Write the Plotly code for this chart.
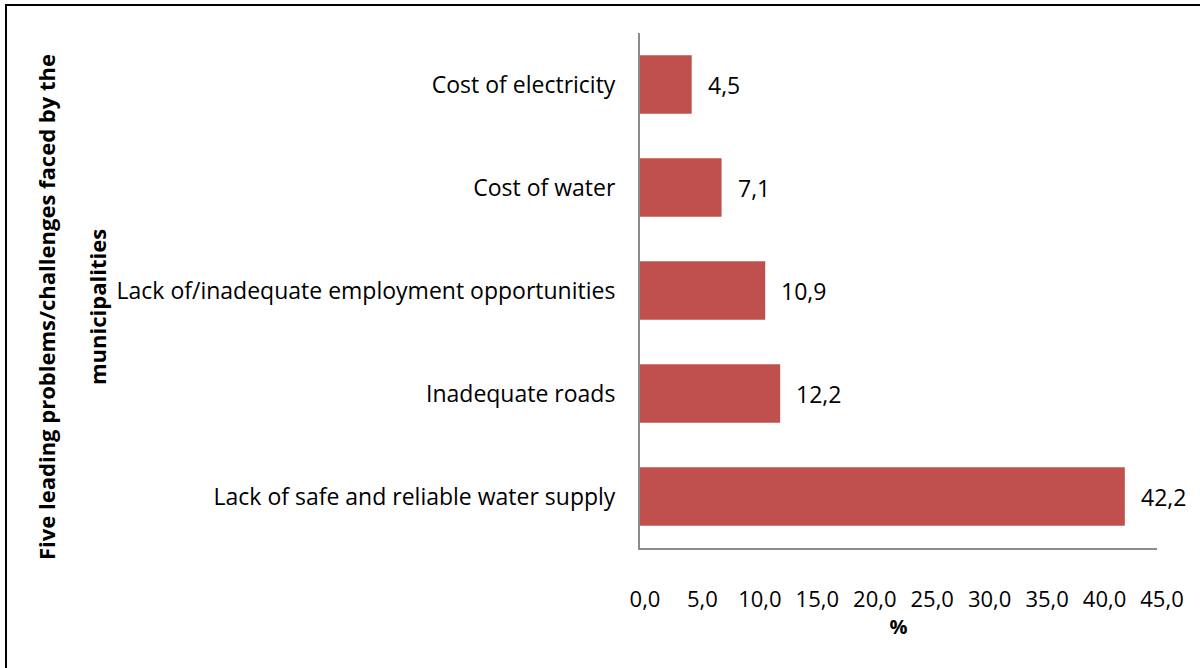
import plotly.graph_objects as go

categories = [
    "Cost of electricity",
    "Cost of water",
    "Lack of/inadequate employment opportunities",
    "Inadequate roads",
    "Lack of safe and reliable water supply",
]
values = [4.5, 7.1, 10.9, 12.2, 42.2]
tick_vals = [0, 5, 10, 15, 20, 25, 30, 35, 40, 45]
tick_text = ["0,0", "5,0", "10,0", "15,0", "20,0", "25,0", "30,0", "35,0", "40,0", "45,0"]
value_labels = ["4,5", "7,1", "10,9", "12,2", "42,2"]
y_title_lines = ["Five leading problems/challenges faced by the", "municipalities"]

W, H = 1200, 668
L, R, T, B = 640, 43, 33, 120
pw, ph = W - L - R, H - T - B

FONT = "Open Sans"
FS = 23

fig = go.Figure()
fig.add_trace(go.Bar(
    y=categories, x=values, orientation="h",
    marker=dict(color="#C0504D", line=dict(width=0)),
    width=0.57,
))

for c, v, t in zip(categories, values, value_labels):
    fig.add_annotation(x=v, y=c, text=t, showarrow=False, xanchor="left",
                       xshift=14, font=dict(family=FONT, size=FS, color="#000000"))

# y-axis title as two rotated annotations
for xpx, line in zip([46, 97], y_title_lines):
    fig.add_annotation(
        xref="paper", yref="paper",
        x=(xpx - L) / pw, y=1 - (307 - T) / ph,
        xanchor="center", yanchor="middle",
        text="<b>" + line + "</b>",
        textangle=-90, showarrow=False, align="center",
        font=dict(family=FONT, size=22, color="#000000"),
    )

# outer frame
fig.add_shape(type="rect", xref="paper", yref="paper",
              x0=(6 - L) / pw, x1=(1210 - L) / pw,
              y0=1 - (680 - T) / ph, y1=1 + (T - 5) / ph,
              line=dict(color="#000000", width=2), fillcolor="rgba(0,0,0,0)",
              layer="below")

fig.update_layout(
    width=W, height=H,
    margin=dict(l=L, r=R, t=T, b=B),
    plot_bgcolor="white", paper_bgcolor="white",
    showlegend=False,
    xaxis=dict(
        range=[0, 45], tickvals=tick_vals, ticktext=tick_text,
        showgrid=False, zeroline=False, showline=True,
        linecolor="#8C8C8C", linewidth=2, ticks="",
        tickfont=dict(family=FONT, size=22, color="#000000"),
        ticklabelshift=5, ticklabelstandoff=31,
        title=dict(text="<b>%</b>", font=dict(family=FONT, size=20, color="#000000"), standoff=6),
    ),
    yaxis=dict(
        autorange="reversed", showgrid=False, zeroline=False, showline=True,
        linecolor="#8C8C8C", linewidth=2, ticks="",
        tickfont=dict(family=FONT, size=FS, color="#000000"),
        ticklabelstandoff=18,
    ),
)

fig.write_html("out.html", config={"displayModeBar": False},
               post_script="document.body.style.margin='0';document.body.style.padding='0';")
